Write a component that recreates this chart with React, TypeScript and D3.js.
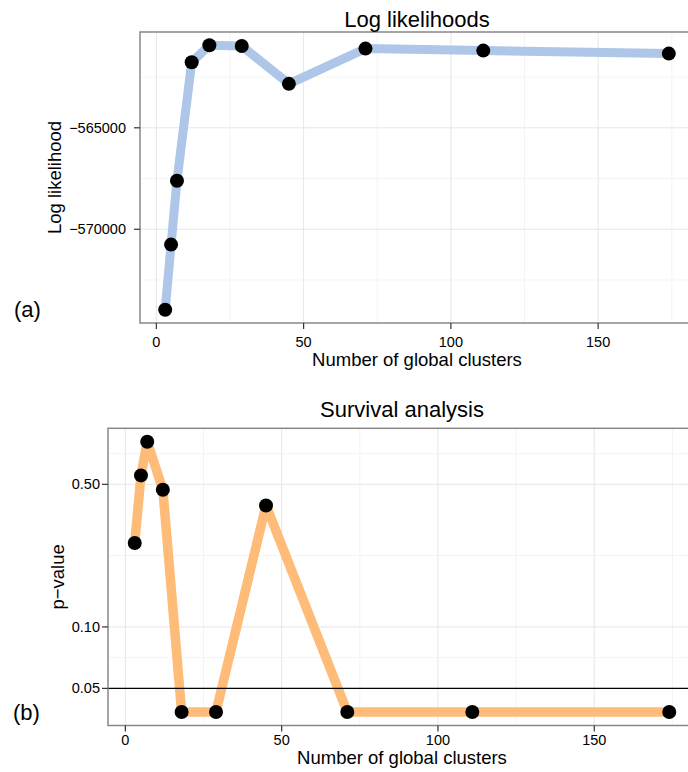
import React from "react";
import * as d3 from "d3";

const clusters = [3, 5, 7, 12, 18, 29, 45, 71, 111, 174];
const logLik = [-573967, -570755, -567607, -561769, -560932, -560967, -562836, -561098, -561197, -561344];
const pValue = [0.258, 0.553, 0.808, 0.47, 0.0383, 0.0383, 0.394, 0.0383, 0.0383, 0.0383];

const xTicks = [0, 50, 100, 150];
const xMinor = [25, 75, 125, 175];
const llTicks = [-565000, -570000];
const llMinor = [-562500, -567500, -572500];
const pTicks = [0.05, 0.1, 0.5];
const pTickLabels = ["0.05", "0.10", "0.50"];
const pMinor = [Math.sqrt(0.05 * 0.1), Math.sqrt(0.1 * 0.5), Math.sqrt(0.5 * 1)];
const threshold = 0.05;

const FONT = "'Liberation Sans', Arial, Helvetica, sans-serif";

function expand(ext: [number, number], f = 0.05): [number, number] {
  const r = ext[1] - ext[0];
  return [ext[0] - r * f, ext[1] + r * f];
}

export default function App() {
  const xExt = expand(d3.extent(clusters) as [number, number]);

  // Panel A
  const A = { left: 140, right: 694, top: 32, bottom: 323 };
  const xA = d3.scaleLinear().domain(xExt).range([A.left, A.right]);
  const yA = d3.scaleLinear().domain(expand(d3.extent(logLik) as [number, number])).range([A.bottom, A.top]);
  const fmt = d3.format("d");
  const lineA = d3.line<number>().x((_, i) => xA(clusters[i])).y((d) => yA(d));

  // Panel B
  const B = { left: 108, right: 696, top: 428.3, bottom: 725.5 };
  const xB = d3.scaleLinear().domain(xExt).range([B.left, B.right]);
  const lpExt = d3.extent(pValue.map((v) => Math.log10(v))) as [number, number];
  const lpDom = expand(lpExt);
  const yB = d3.scaleLog().domain([Math.pow(10, lpDom[0]), Math.pow(10, lpDom[1])]).range([B.bottom, B.top]);
  const lineB = d3.line<number>().x((_, i) => xB(clusters[i])).y((d) => yB(d));

  const minorCol = "#f4f4f4";
  const majorCol = "#e6e6e6";

  return (
    <svg width={688} height={772} style={{ position: "absolute", left: 0, top: 0, background: "#fff" }} fontFamily={FONT}>
      {/* ===== Panel A ===== */}
      <g>
        {xMinor.map((v) => (
          <line key={"xam" + v} x1={xA(v)} x2={xA(v)} y1={A.top} y2={A.bottom} stroke={minorCol} strokeWidth={1} />
        ))}
        {llMinor.map((v) => (
          <line key={"yam" + v} x1={A.left} x2={A.right} y1={yA(v)} y2={yA(v)} stroke={minorCol} strokeWidth={1} />
        ))}
        {xTicks.map((v) => (
          <line key={"xaM" + v} x1={xA(v)} x2={xA(v)} y1={A.top} y2={A.bottom} stroke={majorCol} strokeWidth={1} />
        ))}
        {llTicks.map((v) => (
          <line key={"yaM" + v} x1={A.left} x2={A.right} y1={yA(v)} y2={yA(v)} stroke={majorCol} strokeWidth={1} />
        ))}
        <path d={lineA(logLik) || ""} fill="none" stroke="#aec7e8" strokeWidth={9} strokeLinejoin="round" />
        {logLik.map((v, i) => (
          <circle key={"pa" + i} cx={xA(clusters[i])} cy={yA(v)} r={7} fill="#000" />
        ))}
        <rect x={A.left} y={A.top} width={A.right - A.left} height={A.bottom - A.top} fill="none" stroke="#888" strokeWidth={1.5} />
        {xTicks.map((v) => (
          <g key={"xat" + v}>
            <line x1={xA(v)} x2={xA(v)} y1={A.bottom} y2={A.bottom + 6} stroke="#333" strokeWidth={1.2} />
            <text x={xA(v)} y={A.bottom + 24} textAnchor="middle" fontSize={14.5} fill="#000">{v}</text>
          </g>
        ))}
        {llTicks.map((v) => (
          <g key={"yat" + v}>
            <line x1={A.left - 6} x2={A.left} y1={yA(v)} y2={yA(v)} stroke="#333" strokeWidth={1.2} />
            <text x={A.left - 14} y={yA(v)} dy="0.35em" textAnchor="end" fontSize={14.5} fill="#000">
              {"\u2212" + fmt(Math.abs(v))}
            </text>
          </g>
        ))}
        <text x={(A.left + A.right) / 2} y={27} textAnchor="middle" fontSize={22} fill="#000">Log likelihoods</text>
        <text x={(A.left + A.right) / 2} y={366} textAnchor="middle" fontSize={18.5} fill="#000">Number of global clusters</text>
        <text transform={`translate(61,${(A.top + A.bottom) / 2}) rotate(-90)`} textAnchor="middle" fontSize={18.5} fill="#000">Log likelihood</text>
        <text x={14} y={317} fontSize={22} fill="#000">(a)</text>
      </g>

      {/* ===== Panel B ===== */}
      <g>
        {xMinor.map((v) => (
          <line key={"xbm" + v} x1={xB(v)} x2={xB(v)} y1={B.top} y2={B.bottom} stroke={minorCol} strokeWidth={1} />
        ))}
        {pMinor.map((v) => (
          <line key={"ybm" + v} x1={B.left} x2={B.right} y1={yB(v)} y2={yB(v)} stroke={minorCol} strokeWidth={1} />
        ))}
        {xTicks.map((v) => (
          <line key={"xbM" + v} x1={xB(v)} x2={xB(v)} y1={B.top} y2={B.bottom} stroke={majorCol} strokeWidth={1} />
        ))}
        {pTicks.map((v) => (
          <line key={"ybM" + v} x1={B.left} x2={B.right} y1={yB(v)} y2={yB(v)} stroke={majorCol} strokeWidth={1} />
        ))}
        <path d={lineB(pValue) || ""} fill="none" stroke="#ffbb78" strokeWidth={9.5} strokeLinejoin="round" />
        <line x1={B.left} x2={B.right} y1={yB(threshold)} y2={yB(threshold)} stroke="#000" strokeWidth={1.2} />
        {pValue.map((v, i) => (
          <circle key={"pb" + i} cx={xB(clusters[i])} cy={yB(v)} r={7} fill="#000" />
        ))}
        <rect x={B.left} y={B.top} width={B.right - B.left} height={B.bottom - B.top} fill="none" stroke="#888" strokeWidth={1.5} />
        {xTicks.map((v) => (
          <g key={"xbt" + v}>
            <line x1={xB(v)} x2={xB(v)} y1={B.bottom} y2={B.bottom + 6} stroke="#333" strokeWidth={1.2} />
            <text x={xB(v)} y={B.bottom + 19.5} textAnchor="middle" fontSize={14.5} fill="#000">{v}</text>
          </g>
        ))}
        {pTicks.map((v, i) => (
          <g key={"ybt" + v}>
            <line x1={B.left - 6} x2={B.left} y1={yB(v)} y2={yB(v)} stroke="#333" strokeWidth={1.2} />
            <text x={B.left - 8} y={yB(v)} dy="0.35em" textAnchor="end" fontSize={14.5} fill="#000">{pTickLabels[i]}</text>
          </g>
        ))}
        <text x={(B.left + B.right) / 2} y={417} textAnchor="middle" fontSize={22} fill="#000">Survival analysis</text>
        <text x={(B.left + B.right) / 2} y={763.5} textAnchor="middle" fontSize={18.5} fill="#000">Number of global clusters</text>
        <text transform={`translate(64,${(B.top + B.bottom) / 2}) rotate(-90)`} textAnchor="middle" fontSize={18.5} fill="#000">p{"\u2212"}value</text>
        <text x={13} y={720} fontSize={22} fill="#000">(b)</text>
      </g>
    </svg>
  );
}
